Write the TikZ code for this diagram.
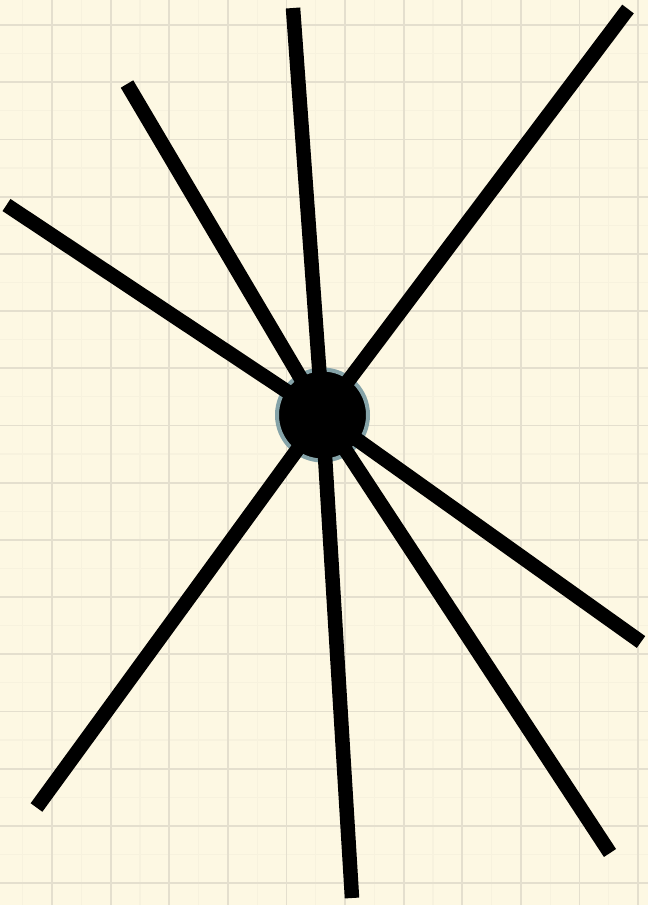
\documentclass[tikz,border=0pt]{standalone}
\definecolor{paper}{RGB}{253,248,227}
\definecolor{gridmaj}{RGB}{228,223,206}
\definecolor{gridmin}{RGB}{247,242,222}
\definecolor{ring}{RGB}{133,163,168}
\begin{document}
\begin{tikzpicture}[x=1pt,y=-1pt,
  ray/.style={line width=14.5pt, black, line cap=butt},
  majline/.style={gridmaj, line width=1.8pt},
  minline/.style={gridmin, line width=1.2pt},
  hubnode/.style={circle, fill=black, draw=ring, line width=4pt, minimum size=91pt, inner sep=0pt}]
\fill[paper] (0,0) rectangle (648,905);
\useasboundingbox (0,0) rectangle (648,905);
\begin{scope}
\clip (0,0) rectangle (648,905);
\foreach \k in {-1,...,10} {
  \draw[minline] ({52+58.6*\k+29.3},0) -- ({52+58.6*\k+29.3},905);
}
\foreach \k in {-1,...,15} {
  \draw[minline] (0,{25+57.2*\k+28.6}) -- (648,{25+57.2*\k+28.6});
}
\foreach \k in {-1,...,10} {
  \draw[majline] ({52+58.6*\k},0) -- ({52+58.6*\k},905);
}
\foreach \k in {-1,...,16} {
  \draw[majline] (0,{25+57.2*\k}) -- (648,{25+57.2*\k});
}
\end{scope}
\node[hubnode] (hub) at (322.5,415) {};
\coordinate (top) at (293,8);
\coordinate (topright) at (628,9);
\coordinate (upleft) at (127,84);
\coordinate (left) at (6.5,205);
\coordinate (right) at (641,642);
\coordinate (lowright) at (610,853);
\coordinate (bottom) at (352,898);
\coordinate (lowleft) at (36.5,807.5);
\foreach \e in {top,topright,upleft,left,right,lowright,bottom,lowleft} {
  \draw[ray] (hub.center) -- (\e);
}
\end{tikzpicture}
\end{document}
